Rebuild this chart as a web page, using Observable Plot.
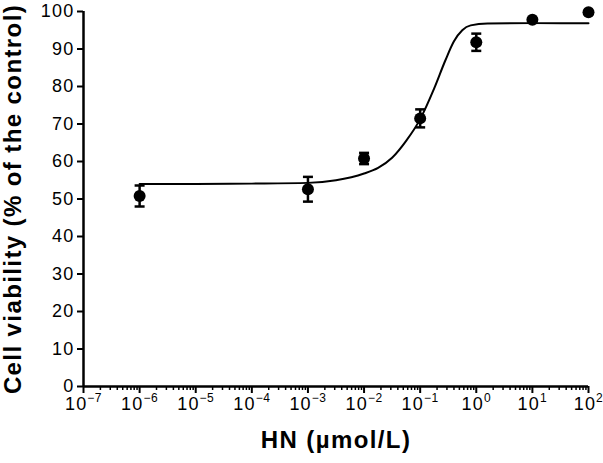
<!DOCTYPE html>
<html><head><meta charset="utf-8">
<script src="https://cdn.jsdelivr.net/npm/d3@7"></script>
<script src="https://cdn.jsdelivr.net/npm/@observablehq/plot@0.6"></script>
<style>
body{margin:0;background:#fff;}
</style></head><body><div id="chart"></div>
<script>
// Measured points (HN concentration, µmol/L)
const concentrations = [1e-6, 1e-3, 1e-2, 1e-1, 1, 10, 100];
const viability = [50.8, 52.6, 60.8, 71.5, 91.8, 97.8, 99.8];
const sem = [2.8, 3.3, 1.5, 2.4, 2.3, 0, 0];

// Fitted curve (log10 concentration, viability)
const fitLogX = [-6, -5, -4, -3, -2.5, -2, -1.75, -1.5, -1.25, -1, -0.75, -0.55, -0.4, -0.25, -0.1, 0.2, 1, 2];
const fitY = [54.0, 54.0, 54.1, 54.3, 55.0, 56.8, 58.3, 61.0, 65.5, 71.3, 79.5, 87.0, 92.0, 95.0, 96.3, 96.8, 96.9, 96.9];

const yTicks = [0, 10, 20, 30, 40, 50, 60, 70, 80, 90, 100];
const xTickExponents = [-7, -6, -5, -4, -3, -2, -1, 0, 1, 2];
const xTitle = "HN (µmol/L)";
const yTitle = "Cell viability (% of the control)";

const font = '"Liberation Sans", Arial, Helvetica, sans-serif';
const points = concentrations.map((c, i) => ({x: c, y: viability[i], e: sem[i]}));
const fit = fitLogX.map((l, i) => ({x: Math.pow(10, l), y: fitY[i]}));
const majorTicks = xTickExponents.map(k => Math.pow(10, k));
const minorTicks = [];
for (let k = -7; k < 2; k++) for (let m = 2; m <= 9; m++) minorTicks.push(m * Math.pow(10, k));
const withErr = points.filter(d => d.e > 0);
const caps = withErr.flatMap(d => [{x: d.x, y: d.y - d.e}, {x: d.x, y: d.y + d.e}]);
const capSymbol = {draw(ctx) { ctx.moveTo(-5, 0); ctx.lineTo(5, 0); }};
const sup = k => String(k).replace("-", "\u2212");

const chart = Plot.plot({
  width: 603, height: 463,
  marginLeft: 83, marginRight: 15, marginTop: 11, marginBottom: 77,
  style: {fontFamily: font, background: "#fff", color: "#000", overflow: "visible"},
  x: {type: "log", domain: [1e-7, 1e2]},
  y: {domain: [0, 100]},
  marks: [
    Plot.axisY(yTicks, {tickSize: 6, tickPadding: 3, fontSize: 18, strokeWidth: 2, label: null, tickFormat: d => String(d)}),
    Plot.axisX(minorTicks, {tickSize: 4, strokeWidth: 1.5, tickFormat: () => "", label: null}),
    Plot.axisX(majorTicks, {tickSize: 7, tickPadding: 4, strokeWidth: 2, fontSize: 18, label: null,
      tickFormat: d => "10|" + sup(Math.round(Math.log10(d)))}),
    Plot.ruleX([1e-7], {strokeWidth: 2.5}),
    Plot.ruleY([0], {strokeWidth: 2.5}),
    Plot.line(fit, {x: "x", y: "y", curve: "monotone-x", strokeWidth: 2}),
    Plot.ruleX(withErr, {x: "x", y1: d => d.y - d.e, y2: d => d.y + d.e, strokeWidth: 2.5}),
    Plot.dot(caps, {x: "x", y: "y", symbol: capSymbol, stroke: "black", strokeWidth: 2.5, fill: "none"}),
    Plot.dot(points, {x: "x", y: "y", r: 6, fill: "black"}),
    Plot.text([xTitle], {frameAnchor: "bottom", dy: 61, fontSize: 24, fontWeight: "bold", textAnchor: "middle"}),
    Plot.text([yTitle], {frameAnchor: "left", dx: -70, rotate: -90, fontSize: 24, fontWeight: "bold", textAnchor: "middle"})
  ]
});

const svg = d3.select(chart);
svg.selectAll("text").style("font-size", "18px").style("letter-spacing", "1.2px");
svg.selectAll('g[aria-label="text"] text').style("font-size", "24px").style("font-weight", "bold").style("letter-spacing", "1.4px");
svg.selectAll("text").each(function () {
  const t = d3.select(this);
  const s = t.text();
  if (!s.includes("|")) return;
  const [base, exp] = s.split("|");
  t.text(null);
  t.append("tspan").text(base);
  t.append("tspan").attr("dy", -8).style("font-size", "12px").style("letter-spacing", "0.5px").text(exp);
});

document.getElementById("chart").appendChild(chart);
</script></body></html>
